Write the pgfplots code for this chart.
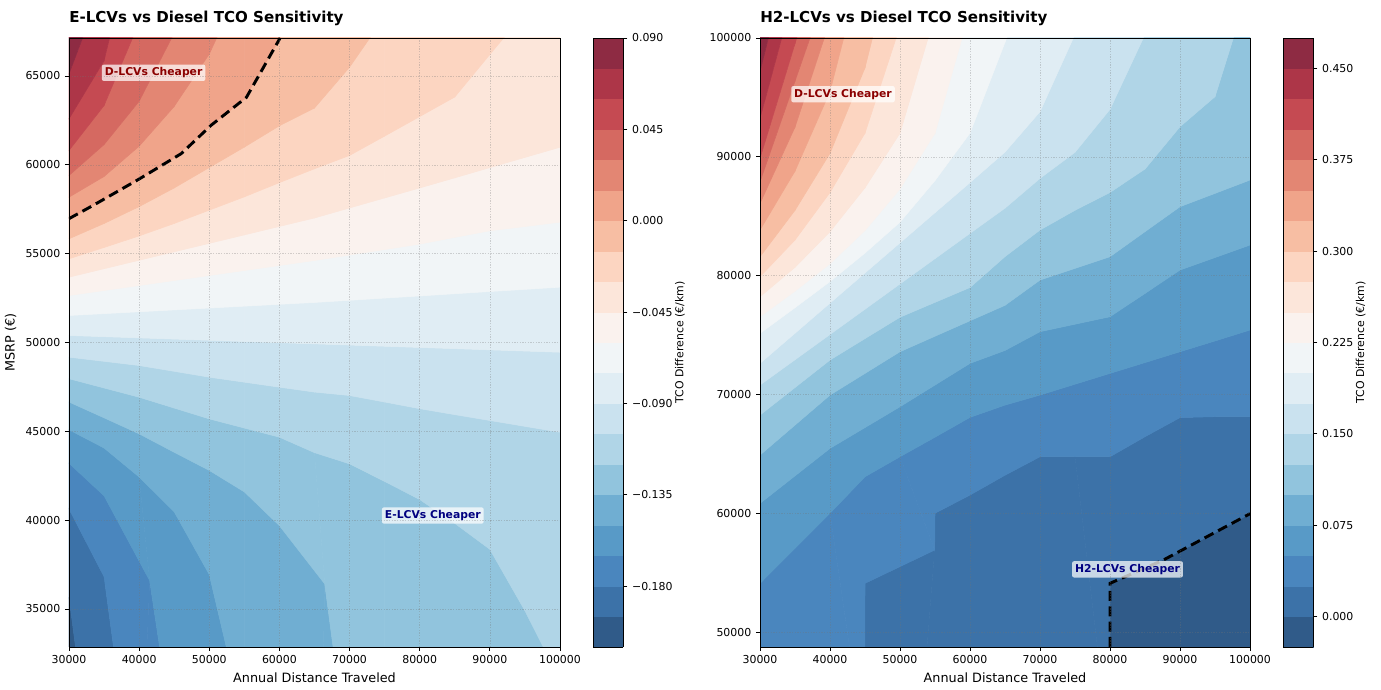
\documentclass[border=0pt]{standalone}
\usepackage{pgfplots}
\pgfplotsset{compat=1.18}
\usepackage{fontspec}
\setmainfont{DejaVu Sans}
\definecolor{dred}{RGB}{139,0,0}
\definecolor{dnavy}{RGB}{0,0,128}
\tikzset{lab/.style={fill=white, fill opacity=0.72, text opacity=1, inner sep=2.2pt, rounded corners=1.5pt, font=\bfseries\fontsize{8.1}{9.5}\selectfont}}
\pgfplotsset{
  colormap={tco}{rgb255=(48,91,137) rgb255=(60,114,168) rgb255=(74,134,190) rgb255=(88,154,199) rgb255=(112,174,210) rgb255=(145,196,221) rgb255=(176,213,231) rgb255=(202,226,239) rgb255=(224,237,244) rgb255=(241,245,247) rgb255=(250,242,238) rgb255=(252,230,218) rgb255=(252,213,193) rgb255=(247,190,163) rgb255=(240,164,138) rgb255=(227,134,115) rgb255=(213,105,97) rgb255=(197,74,82) rgb255=(173,54,72) rgb255=(142,43,67)},
  tcoaxis/.style={
    scale only axis, height=456.75pt,
    xmin=30000, xmax=100000,
    xtick={30000,40000,50000,60000,70000,80000,90000,100000},
    colormap name=tco, colormap access=piecewise constant,
    axis on top, grid=major,
    grid style={black!55, opacity=0.3, line width=0.4pt, dash pattern=on 1pt off 1pt},
    tick align=outside, tick pos=left, major tick length=3pt,
    axis line style={line width=0.6pt}, tick style={line width=0.6pt, black},
    scaled ticks=false,
    xticklabel={\pgfmathprintnumber[fixed,precision=0,1000 sep={},assume math mode=true]{\tick}},
    yticklabel={\pgfmathprintnumber[fixed,precision=0,1000 sep={},assume math mode=true]{\tick}},
    tick label style={font=\fontsize{8.2}{9.5}\selectfont},
    label style={font=\fontsize{9.6}{11}\selectfont},
    xlabel={Annual Distance Traveled},
    title style={font=\bfseries\fontsize{11.3}{13}\selectfont, at={(0,1)}, anchor=base west, inner xsep=0pt, yshift=5.5pt},
    colorbar,
    colorbar style={
      at={(parent axis.north east)}, anchor=north west, xshift=16.5pt,
      scale only axis, width=22.5pt, height=456.75pt,
      tick pos=right, yticklabel pos=right, xtick=\empty,
      tick align=outside, major tick length=3pt,
      axis line style={line width=0.6pt}, tick style={line width=0.6pt, black},
      yticklabel style={font=\fontsize{8.2}{9.5}\selectfont, anchor=west},
      ylabel={TCO Difference (€/km)},
      ylabel style={font=\fontsize{8.2}{9.5}\selectfont},
      ylabel shift=-5pt,
    },
  },
}
\begin{document}
\begin{tikzpicture}
\begin{axis}[tcoaxis, at={(51.75pt,31.5pt)}, anchor=south west, width=368.25pt,
  ymin=32860, ymax=67140, ytick={35000,40000,45000,50000,55000,60000,65000},
  ylabel={MSRP (€)},
  title={E-LCVs vs Diesel TCO Sensitivity},
  point meta min=-0.21, point meta max=0.09,
  colorbar style={ytick={-0.18,-0.135,-0.09,-0.045,0,0.045,0.09}, yticklabels={−0.180,−0.135,−0.090,−0.045,0.000,0.045,0.090}}]
\addplot[surf, shader=flat mean, point meta=explicit, mesh/rows=21, mesh/cols=15] coordinates {
(30000,5000)[-0.2095] (35000,5000)[-0.2095] (40000,5000)[-0.2095] (45000,5000)[-0.2095] (50000,5000)[-0.2095] (55000,5000)[-0.2095] (60000,5000)[-0.2095] (65000,5000)[-0.2095] (70000,5000)[-0.2095] (75000,5000)[-0.2095] (80000,5000)[-0.2095] (85000,5000)[-0.2095] (90000,5000)[-0.2095] (95000,5000)[-0.2095] (100000,5000)[-0.2095]
(30000,35660)[-0.1945] (35000,20606)[-0.1945] (40000,6000)[-0.1945] (45000,6000)[-0.1945] (50000,6000)[-0.1945] (55000,6000)[-0.1945] (60000,6000)[-0.1945] (65000,6000)[-0.1945] (70000,6000)[-0.1945] (75000,6000)[-0.1945] (80000,6000)[-0.1945] (85000,6000)[-0.1945] (90000,6000)[-0.1945] (95000,6000)[-0.1945] (100000,6000)[-0.1945]
(30000,40634)[-0.1795] (35000,36818)[-0.1795] (40000,22159)[-0.1795] (45000,7000)[-0.1795] (50000,7000)[-0.1795] (55000,7000)[-0.1795] (60000,7000)[-0.1795] (65000,7000)[-0.1795] (70000,7000)[-0.1795] (75000,7000)[-0.1795] (80000,7000)[-0.1795] (85000,7000)[-0.1795] (90000,7000)[-0.1795] (95000,7000)[-0.1795] (100000,7000)[-0.1795]
(30000,43205)[-0.1645] (35000,41370)[-0.1645] (41500,36598)[-0.1645] (45000,27385)[-0.1645] (50000,8000)[-0.1645] (55000,8000)[-0.1645] (60000,8000)[-0.1645] (65000,8000)[-0.1645] (70000,8000)[-0.1645] (75000,8000)[-0.1645] (80000,8000)[-0.1645] (85000,8000)[-0.1645] (90000,8000)[-0.1645] (95000,8000)[-0.1645] (100000,8000)[-0.1645]
(30000,45090)[-0.1495] (35000,44060)[-0.1495] (40000,42430)[-0.1495] (45000,40470)[-0.1495] (50000,36940)[-0.1495] (55000,28545)[-0.1495] (60000,9000)[-0.1495] (65000,9000)[-0.1495] (70000,9000)[-0.1495] (75000,9000)[-0.1495] (80000,9000)[-0.1495] (85000,9000)[-0.1495] (90000,9000)[-0.1495] (95000,9000)[-0.1495] (100000,9000)[-0.1495]
(30000,46650)[-0.1345] (35000,45760)[-0.1345] (40000,44860)[-0.1345] (45000,43820)[-0.1345] (50000,42800)[-0.1345] (55000,41590)[-0.1345] (60000,39690)[-0.1345] (66460,36411)[-0.1345] (70000,25848)[-0.1345] (75000,10000)[-0.1345] (80000,10000)[-0.1345] (85000,10000)[-0.1345] (90000,10000)[-0.1345] (95000,10000)[-0.1345] (100000,10000)[-0.1345]
(30000,47960)[-0.1195] (35000,47440)[-0.1195] (40000,46920)[-0.1195] (45000,46310)[-0.1195] (50000,45700)[-0.1195] (55000,45185)[-0.1195] (60000,44670)[-0.1195] (65000,43800)[-0.1195] (70000,43170)[-0.1195] (75000,42180)[-0.1195] (80000,41160)[-0.1195] (85000,39820)[-0.1195] (90000,38360)[-0.1195] (95000,34900)[-0.1195] (100000,31007)[-0.1195]
(30000,49174)[-0.1045] (35000,48940)[-0.1045] (40000,48705)[-0.1045] (45000,48378)[-0.1045] (50000,48048)[-0.1045] (55000,47767)[-0.1045] (60000,47485)[-0.1045] (65000,47210)[-0.1045] (70000,47016)[-0.1045] (75000,46650)[-0.1045] (80000,46275)[-0.1045] (85000,45940)[-0.1045] (90000,45610)[-0.1045] (95000,45280)[-0.1045] (100000,44951)[-0.1045]
(30000,50394)[-0.0895] (35000,50327)[-0.0895] (40000,50260)[-0.0895] (45000,50192)[-0.0895] (50000,50125)[-0.0895] (55000,50058)[-0.0895] (60000,49990)[-0.0895] (65000,49923)[-0.0895] (70000,49855)[-0.0895] (75000,49788)[-0.0895] (80000,49720)[-0.0895] (85000,49653)[-0.0895] (90000,49585)[-0.0895] (95000,49518)[-0.0895] (100000,49450)[-0.0895]
(30000,51520)[-0.0745] (35000,51625)[-0.0745] (40000,51730)[-0.0745] (45000,51835)[-0.0745] (50000,51940)[-0.0745] (55000,52045)[-0.0745] (60000,52150)[-0.0745] (65000,52255)[-0.0745] (70000,52375)[-0.0745] (75000,52500)[-0.0745] (80000,52620)[-0.0745] (85000,52745)[-0.0745] (90000,52870)[-0.0745] (95000,52990)[-0.0745] (100000,53115)[-0.0745]
(30000,52646)[-0.0595] (35000,52928)[-0.0595] (40000,53209)[-0.0595] (45000,53491)[-0.0595] (50000,53773)[-0.0595] (55000,54054)[-0.0595] (60000,54336)[-0.0595] (65000,54617)[-0.0595] (70000,54925)[-0.0595] (75000,55233)[-0.0595] (80000,55540)[-0.0595] (85000,55920)[-0.0595] (90000,56290)[-0.0595] (95000,56530)[-0.0595] (100000,56775)[-0.0595]
(30000,53678)[-0.0445] (35000,54154)[-0.0445] (40000,54630)[-0.0445] (45000,55106)[-0.0445] (50000,55582)[-0.0445] (55000,56058)[-0.0445] (60000,56534)[-0.0445] (65000,57010)[-0.0445] (70000,57573)[-0.0445] (75000,58137)[-0.0445] (80000,58700)[-0.0445] (85000,59270)[-0.0445] (90000,59845)[-0.0445] (95000,60420)[-0.0445] (100000,60990)[-0.0445]
(30000,54712)[-0.0295] (35000,55350)[-0.0295] (40000,56000)[-0.0295] (45000,56700)[-0.0295] (50000,57450)[-0.0295] (55000,58200)[-0.0295] (60000,59000)[-0.0295] (65000,59780)[-0.0295] (70000,60530)[-0.0295] (75000,61620)[-0.0295] (80000,62720)[-0.0295] (85000,63820)[-0.0295] (90000,66216)[-0.0295] (95000,68573)[-0.0295] (100000,71000)[-0.0295]
(30000,55838)[-0.0145] (35000,56700)[-0.0145] (40000,57650)[-0.0145] (45000,58700)[-0.0145] (50000,59850)[-0.0145] (55000,61000)[-0.0145] (60000,62200)[-0.0145] (65000,63200)[-0.0145] (70000,65500)[-0.0145] (75000,68347)[-0.0145] (80000,72000)[-0.0145] (85000,73000)[-0.0145] (90000,74000)[-0.0145] (95000,75000)[-0.0145] (100000,76000)[-0.0145]
(30000,56970)[0.0005] (35000,58070)[0.0005] (40000,59200)[0.0005] (45000,60390)[0.0005] (50000,62130)[0.0005] (55000,63710)[0.0005] (60000,67070)[0.0005] (65000,70500)[0.0005] (70000,73500)[0.0005] (75000,76000)[0.0005] (80000,77000)[0.0005] (85000,78000)[0.0005] (90000,79000)[0.0005] (95000,80000)[0.0005] (100000,81000)[0.0005]
(30000,58180)[0.0155] (35000,59345)[0.0155] (40000,61050)[0.0155] (45000,63290)[0.0155] (50000,66240)[0.0155] (55000,70526)[0.0155] (60000,75000)[0.0155] (65000,77000)[0.0155] (70000,78000)[0.0155] (75000,79000)[0.0155] (80000,80000)[0.0155] (85000,81000)[0.0155] (90000,82000)[0.0155] (95000,83000)[0.0155] (100000,84000)[0.0155]
(30000,59402)[0.0305] (35000,61143)[0.0305] (40000,63580)[0.0305] (45000,67424)[0.0305] (50000,71000)[0.0305] (55000,76000)[0.0305] (60000,80000)[0.0305] (65000,82000)[0.0305] (70000,83000)[0.0305] (75000,84000)[0.0305] (80000,85000)[0.0305] (85000,86000)[0.0305] (90000,87000)[0.0305] (95000,88000)[0.0305] (100000,89000)[0.0305]
(30000,60810)[0.0455] (35000,63342)[0.0455] (40000,68019)[0.0455] (45000,72000)[0.0455] (50000,76000)[0.0455] (55000,80000)[0.0455] (60000,84000)[0.0455] (65000,86000)[0.0455] (70000,87000)[0.0455] (75000,88000)[0.0455] (80000,89000)[0.0455] (85000,90000)[0.0455] (90000,91000)[0.0455] (95000,92000)[0.0455] (100000,93000)[0.0455]
(30000,62594)[0.0605] (35000,65870)[0.0605] (40000,74011)[0.0605] (45000,76000)[0.0605] (50000,80000)[0.0605] (55000,84000)[0.0605] (60000,88000)[0.0605] (65000,90000)[0.0605] (70000,91000)[0.0605] (75000,92000)[0.0605] (80000,93000)[0.0605] (85000,94000)[0.0605] (90000,95000)[0.0605] (95000,96000)[0.0605] (100000,97000)[0.0605]
(30000,65128)[0.0755] (35000,70340)[0.0755] (40000,78000)[0.0755] (45000,80000)[0.0755] (50000,84000)[0.0755] (55000,88000)[0.0755] (60000,92000)[0.0755] (65000,94000)[0.0755] (70000,95000)[0.0755] (75000,96000)[0.0755] (80000,97000)[0.0755] (85000,98000)[0.0755] (90000,99000)[0.0755] (95000,100000)[0.0755] (100000,101000)[0.0755]
(30000,120000)[0.0905] (35000,120000)[0.0905] (40000,120000)[0.0905] (45000,120000)[0.0905] (50000,120000)[0.0905] (55000,120000)[0.0905] (60000,120000)[0.0905] (65000,120000)[0.0905] (70000,120000)[0.0905] (75000,120000)[0.0905] (80000,120000)[0.0905] (85000,120000)[0.0905] (90000,120000)[0.0905] (95000,120000)[0.0905] (100000,120000)[0.0905]
};
\addplot[black, line width=2.2pt, dash pattern=on 7.5pt off 4pt] coordinates {(30000,56970) (33500,57730) (40000,59200) (46000,60630) (50300,62240) (55300,63800) (60100,67140)};
\node[lab, text=dred] at (axis cs:42060,65180) {D-LCVs Cheaper};
\node[lab, text=dnavy] at (axis cs:81870,40260) {E-LCVs Cheaper};
\end{axis}

\begin{axis}[tcoaxis, at={(570pt,31.5pt)}, anchor=south west, width=367.5pt,
  ymin=48740, ymax=100000, ytick={50000,60000,70000,80000,90000,100000},
  title={H2-LCVs vs Diesel TCO Sensitivity},
  point meta min=-0.025, point meta max=0.475,
  colorbar style={ytick={0,0.075,0.15,0.225,0.3,0.375,0.45}, yticklabels={0.000,0.075,0.150,0.225,0.300,0.375,0.450}}]
\addplot[surf, shader=flat mean, point meta=explicit, mesh/rows=21, mesh/cols=15] coordinates {
(30000,10000)[-0.024] (35000,10000)[-0.024] (40000,10000)[-0.024] (45000,10000)[-0.024] (50000,10000)[-0.024] (55000,10000)[-0.024] (60000,10000)[-0.024] (65000,10000)[-0.024] (70000,10000)[-0.024] (75000,10000)[-0.024] (80000,10000)[-0.024] (85000,10000)[-0.024] (90000,10000)[-0.024] (95000,10000)[-0.024] (100000,10000)[-0.024]
(30000,20000)[0.001] (35000,20000)[0.001] (40000,20000)[0.001] (45000,20000)[0.001] (50000,20000)[0.001] (55000,20000)[0.001] (60000,20000)[0.001] (65000,20000)[0.001] (70000,20000)[0.001] (79950,40000)[0.001] (80000,54100)[0.001] (85000,55380)[0.001] (90000,56800)[0.001] (95000,58380)[0.001] (100000,59960)[0.001]
(30000,22000)[0.026] (35000,22000)[0.026] (44950,40000)[0.026] (45000,54100)[0.026] (54950,56900)[0.026] (55000,60000)[0.026] (60000,61530)[0.026] (65000,63200)[0.026] (70000,64755)[0.026] (75000,64755)[0.026] (80000,64755)[0.026] (85000,66440)[0.026] (90000,68050)[0.026] (95000,68126)[0.026] (100000,68126)[0.026]
(30000,54095)[0.051] (35000,57050)[0.051] (40000,60000)[0.051] (45000,63070)[0.051] (50000,64755)[0.051] (55000,66400)[0.051] (60000,68070)[0.051] (65000,69100)[0.051] (70000,69946)[0.051] (75000,70860)[0.051] (80000,71770)[0.051] (85000,72680)[0.051] (90000,73594)[0.051] (95000,74500)[0.051] (100000,75420)[0.051]
(30000,60830)[0.076] (35000,63145)[0.076] (40000,65460)[0.076] (45000,67210)[0.076] (50000,68965)[0.076] (55000,70790)[0.076] (60000,72615)[0.076] (65000,73700)[0.076] (70000,75280)[0.076] (75000,75910)[0.076] (80000,76540)[0.076] (85000,78500)[0.076] (90000,80470)[0.076] (95000,81520)[0.076] (100000,82575)[0.076]
(30000,64896)[0.101] (35000,67420)[0.101] (40000,69946)[0.101] (45000,71770)[0.101] (50000,73594)[0.101] (55000,74900)[0.101] (60000,76200)[0.101] (65000,77500)[0.101] (70000,79628)[0.101] (75000,80610)[0.101] (80000,81592)[0.101] (85000,83700)[0.101] (90000,85800)[0.101] (95000,86920)[0.101] (100000,88046)[0.101]
(30000,68264)[0.126] (35000,70580)[0.126] (40000,72895)[0.126] (45000,74700)[0.126] (50000,76500)[0.126] (55000,77750)[0.126] (60000,79000)[0.126] (65000,81600)[0.126] (70000,83837)[0.126] (75000,85500)[0.126] (80000,87000)[0.126] (85000,88970)[0.126] (90000,92535)[0.126] (95000,95061)[0.126] (100000,104486)[0.126]
(30000,70790)[0.151] (35000,72918)[0.151] (40000,75046)[0.151] (45000,77174)[0.151] (50000,79302)[0.151] (55000,81430)[0.151] (60000,83558)[0.151] (65000,85680)[0.151] (70000,88186)[0.151] (75000,90380)[0.151] (80000,94000)[0.151] (85000,100303)[0.151] (90000,157000)[0.151] (95000,157000)[0.151] (100000,157000)[0.151]
(30000,72615)[0.176] (35000,75150)[0.176] (40000,77690)[0.176] (45000,80225)[0.176] (50000,82760)[0.176] (55000,85300)[0.176] (60000,87830)[0.176] (65000,90400)[0.176] (70000,93800)[0.176] (75000,100313)[0.176] (80000,158000)[0.176] (85000,158000)[0.176] (90000,158000)[0.176] (95000,158000)[0.176] (100000,158000)[0.176]
(30000,75140)[0.201] (35000,77300)[0.201] (40000,79500)[0.201] (45000,81900)[0.201] (50000,84500)[0.201] (55000,88000)[0.201] (60000,92000)[0.201] (65000,99640)[0.201] (70000,107140)[0.201] (75000,159000)[0.201] (80000,159000)[0.201] (85000,159000)[0.201] (90000,159000)[0.201] (95000,159000)[0.201] (100000,159000)[0.201]
(30000,76540)[0.226] (35000,78700)[0.226] (40000,81000)[0.226] (45000,83800)[0.226] (50000,87300)[0.226] (55000,92000)[0.226] (60000,102360)[0.226] (65000,160000)[0.226] (70000,160000)[0.226] (75000,160000)[0.226] (80000,160000)[0.226] (85000,160000)[0.226] (90000,160000)[0.226] (95000,160000)[0.226] (100000,160000)[0.226]
(30000,78220)[0.251] (35000,80700)[0.251] (40000,83700)[0.251] (45000,87400)[0.251] (50000,92000)[0.251] (55000,101970)[0.251] (60000,161000)[0.251] (65000,161000)[0.251] (70000,161000)[0.251] (75000,161000)[0.251] (80000,161000)[0.251] (85000,161000)[0.251] (90000,161000)[0.251] (95000,161000)[0.251] (100000,161000)[0.251]
(30000,79910)[0.276] (35000,83000)[0.276] (40000,87000)[0.276] (45000,92000)[0.276] (50000,101000)[0.276] (55000,162000)[0.276] (60000,162000)[0.276] (65000,162000)[0.276] (70000,162000)[0.276] (75000,162000)[0.276] (80000,162000)[0.276] (85000,162000)[0.276] (90000,162000)[0.276] (95000,162000)[0.276] (100000,162000)[0.276]
(30000,81590)[0.301] (35000,85500)[0.301] (40000,90300)[0.301] (45000,97500)[0.301] (50000,109240)[0.301] (55000,163000)[0.301] (60000,163000)[0.301] (65000,163000)[0.301] (70000,163000)[0.301] (75000,163000)[0.301] (80000,163000)[0.301] (85000,163000)[0.301] (90000,163000)[0.301] (95000,163000)[0.301] (100000,163000)[0.301]
(30000,83840)[0.326] (35000,88800)[0.326] (40000,95500)[0.326] (45000,107000)[0.326] (50000,164000)[0.326] (55000,164000)[0.326] (60000,164000)[0.326] (65000,164000)[0.326] (70000,164000)[0.326] (75000,164000)[0.326] (80000,164000)[0.326] (85000,164000)[0.326] (90000,164000)[0.326] (95000,164000)[0.326] (100000,164000)[0.326]
(30000,86080)[0.351] (35000,92500)[0.351] (40000,101478)[0.351] (45000,165000)[0.351] (50000,165000)[0.351] (55000,165000)[0.351] (60000,165000)[0.351] (65000,165000)[0.351] (70000,165000)[0.351] (75000,165000)[0.351] (80000,165000)[0.351] (85000,165000)[0.351] (90000,165000)[0.351] (95000,165000)[0.351] (100000,165000)[0.351]
(30000,87900)[0.376] (35000,96373)[0.376] (40000,104847)[0.376] (45000,166000)[0.376] (50000,166000)[0.376] (55000,166000)[0.376] (60000,166000)[0.376] (65000,166000)[0.376] (70000,166000)[0.376] (75000,166000)[0.376] (80000,166000)[0.376] (85000,166000)[0.376] (90000,166000)[0.376] (95000,166000)[0.376] (100000,166000)[0.376]
(30000,89870)[0.401] (35000,99536)[0.401] (40000,109203)[0.401] (45000,167000)[0.401] (50000,167000)[0.401] (55000,167000)[0.401] (60000,167000)[0.401] (65000,167000)[0.401] (70000,167000)[0.401] (75000,167000)[0.401] (80000,167000)[0.401] (85000,167000)[0.401] (90000,167000)[0.401] (95000,167000)[0.401] (100000,167000)[0.401]
(30000,93240)[0.426] (35000,104143)[0.426] (40000,168000)[0.426] (45000,168000)[0.426] (50000,168000)[0.426] (55000,168000)[0.426] (60000,168000)[0.426] (65000,168000)[0.426] (70000,168000)[0.426] (75000,168000)[0.426] (80000,168000)[0.426] (85000,168000)[0.426] (90000,168000)[0.426] (95000,168000)[0.426] (100000,168000)[0.426]
(30000,97170)[0.451] (35000,109061)[0.451] (40000,169000)[0.451] (45000,169000)[0.451] (50000,169000)[0.451] (55000,169000)[0.451] (60000,169000)[0.451] (65000,169000)[0.451] (70000,169000)[0.451] (75000,169000)[0.451] (80000,169000)[0.451] (85000,169000)[0.451] (90000,169000)[0.451] (95000,169000)[0.451] (100000,169000)[0.451]
(30000,200000)[0.476] (35000,200000)[0.476] (40000,200000)[0.476] (45000,200000)[0.476] (50000,200000)[0.476] (55000,200000)[0.476] (60000,200000)[0.476] (65000,200000)[0.476] (70000,200000)[0.476] (75000,200000)[0.476] (80000,200000)[0.476] (85000,200000)[0.476] (90000,200000)[0.476] (95000,200000)[0.476] (100000,200000)[0.476]
};
\addplot[black, line width=2.2pt, dash pattern=on 7.5pt off 4pt] coordinates {(80000,48740) (80000,54100) (87620,56060) (100000,59960)};
\node[lab, text=dred] at (axis cs:41860,95270) {D-LCVs Cheaper};
\node[lab, text=dnavy] at (axis cs:82500,55275) {H2-LCVs Cheaper};
\end{axis}
\pgfresetboundingbox
\useasboundingbox (0,0) rectangle (1035.75pt,516.75pt);
\end{tikzpicture}
\end{document}
